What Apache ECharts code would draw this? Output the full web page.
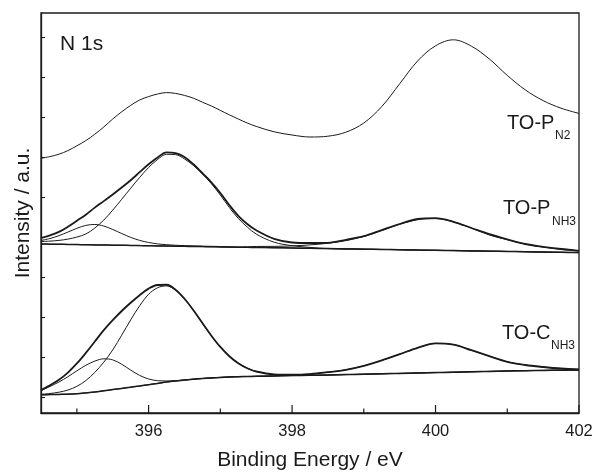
<!DOCTYPE html>
<html>
<head>
<meta charset="utf-8">
<script src="https://cdn.jsdelivr.net/npm/echarts@6/dist/echarts.min.js"></script>
<style>
  html, body { margin: 0; padding: 0; background: #ffffff; }
  #chart { width: 595px; height: 472px; }
</style>
</head>
<body>
<div id="chart"></div>
<script>
// Binding energy grid (eV): 0.125 eV steps up to 397.5, then 0.25 eV steps
const energy = [394.5, 394.625, 394.75, 394.875, 395, 395.125, 395.25, 395.375, 395.5, 395.625,
  395.75, 395.875, 396, 396.125, 396.25, 396.375, 396.5, 396.625, 396.75, 396.875,
  397, 397.125, 397.25, 397.375, 397.5, 397.75, 398, 398.25, 398.5, 398.75,
  399, 399.25, 399.5, 399.75, 400, 400.25, 400.5, 400.75, 401, 401.25,
  401.5, 401.75, 402];

// TO-P (N2) spectrum, offset intensity
const pN2 = [5.97, 6.01, 6.07, 6.16, 6.28, 6.41, 6.57, 6.75, 6.95, 7.13,
  7.29, 7.425, 7.51, 7.575, 7.61, 7.59, 7.54, 7.47, 7.37, 7.275,
  7.165, 7.055, 6.95, 6.85, 6.765, 6.63, 6.55, 6.50, 6.52, 6.62,
  6.85, 7.26, 7.83, 8.40, 8.78, 8.93, 8.77, 8.45, 8.04, 7.68,
  7.41, 7.22, 7.09];

// TO-P (NH3): fitted envelope, three components and background
const pNH3Envelope = [3.975, 4.042, 4.128, 4.256, 4.405, 4.558, 4.735, 4.897, 5.064, 5.237,
  5.42, 5.62, 5.818, 5.988, 6.115, 6.095, 6.0, 5.818, 5.595, 5.368,
  5.10, 4.80, 4.53, 4.325, 4.168, 3.953, 3.863, 3.85, 3.855, 3.93,
  4.02, 4.175, 4.325, 4.45, 4.47, 4.38, 4.225, 4.07, 3.94, 3.825,
  3.755, 3.70, 3.655];
const pNH3Peak1 = [3.913, 3.962, 4.034, 4.123, 4.217, 4.290, 4.313, 4.274, 4.188, 4.087,
  3.991, 3.916, 3.863, 3.828, 3.808, 3.794, 3.784, 3.778, 3.772, 3.767,
  3.762, 3.749, 3.746, 3.742, 3.739, 3.732, 3.725, 3.717, 3.710, 3.703,
  3.696, 3.689, 3.682, 3.674, 3.667, 3.660, 3.653, 3.646, 3.639, 3.632,
  3.624, 3.617, 3.610];
const pNH3Peak2 = [3.887, 3.897, 3.915, 3.947, 3.999, 4.075, 4.225, 4.423, 4.672, 4.943,
  5.218, 5.489, 5.737, 5.938, 6.067, 6.06, 5.952, 5.788, 5.577, 5.333,
  5.05, 4.74, 4.465, 4.25, 4.073, 3.870, 3.783, 3.740, 3.710, 3.703,
  3.696, 3.689, 3.682, 3.674, 3.667, 3.660, 3.653, 3.646, 3.639, 3.632,
  3.624, 3.617, 3.610];
const pNH3Peak3 = [3.825, 3.821, 3.818, 3.814, 3.811, 3.807, 3.803, 3.800, 3.796, 3.793,
  3.789, 3.785, 3.782, 3.778, 3.775, 3.771, 3.767, 3.764, 3.760, 3.757,
  3.753, 3.749, 3.746, 3.755, 3.764, 3.766, 3.777, 3.803, 3.844, 3.910,
  4.014, 4.158, 4.318, 4.433, 4.460, 4.379, 4.225, 4.051, 3.933, 3.823,
  3.747, 3.693, 3.655];
const pNH3Background = [3.825, 3.821, 3.818, 3.814, 3.811, 3.807, 3.803, 3.800, 3.796, 3.793,
  3.789, 3.785, 3.782, 3.778, 3.775, 3.771, 3.767, 3.764, 3.760, 3.757,
  3.753, 3.749, 3.746, 3.742, 3.739, 3.732, 3.725, 3.717, 3.710, 3.703,
  3.696, 3.689, 3.682, 3.674, 3.667, 3.660, 3.653, 3.646, 3.639, 3.632,
  3.624, 3.617, 3.610];

// TO-C (NH3): fitted envelope, three components and background
const cNH3Envelope = [0.173, 0.291, 0.43, 0.611, 0.838, 1.102, 1.386, 1.67, 1.92, 2.15,
  2.355, 2.545, 2.71, 2.80, 2.806, 2.682, 2.457, 2.169, 1.8475, 1.5325,
  1.251, 1.019, 0.8445, 0.7195, 0.6375, 0.567, 0.558, 0.5735, 0.62, 0.68,
  0.78, 0.915, 1.07, 1.23, 1.34, 1.31, 1.17, 1.02, 0.88, 0.80,
  0.75, 0.712, 0.69];
const cNH3Peak1 = [0.16, 0.263, 0.375, 0.507, 0.654, 0.793, 0.897, 0.955, 0.928, 0.819,
  0.673, 0.54, 0.451, 0.408, 0.401, 0.41, 0.425, 0.445, 0.4625, 0.4775,
  0.49, 0.50, 0.5075, 0.5125, 0.5175, 0.525, 0.535, 0.5425, 0.55, 0.56,
  0.57, 0.58, 0.59, 0.60, 0.61, 0.62, 0.63, 0.64, 0.65, 0.6575,
  0.665, 0.67, 0.675];
const cNH3Peak2 = [0.068, 0.088, 0.12, 0.174, 0.2665, 0.4115, 0.614, 0.87, 1.177, 1.546,
  1.927, 2.28, 2.5665, 2.732, 2.7775, 2.672, 2.457, 2.169, 1.8475, 1.5325,
  1.251, 1.019, 0.8445, 0.7195, 0.6375, 0.56, 0.543, 0.5425, 0.55, 0.56,
  0.57, 0.58, 0.59, 0.60, 0.61, 0.62, 0.63, 0.64, 0.65, 0.6575,
  0.665, 0.67, 0.675];
const cNH3Peak3 = [0.055, 0.06, 0.065, 0.07, 0.0825, 0.1025, 0.125, 0.155, 0.185, 0.215,
  0.245, 0.275, 0.3075, 0.34, 0.3725, 0.40, 0.425, 0.445, 0.4625, 0.4775,
  0.49, 0.50, 0.5075, 0.5125, 0.5175, 0.532, 0.55, 0.5735, 0.62, 0.68,
  0.78, 0.915, 1.07, 1.23, 1.34, 1.31, 1.17, 1.02, 0.88, 0.80,
  0.75, 0.712, 0.69];
const cNH3Background = [0.055, 0.06, 0.065, 0.07, 0.0825, 0.1025, 0.125, 0.155, 0.185, 0.215,
  0.245, 0.275, 0.3075, 0.34, 0.3725, 0.40, 0.425, 0.445, 0.4625, 0.4775,
  0.49, 0.50, 0.5075, 0.5125, 0.5175, 0.525, 0.535, 0.5425, 0.55, 0.56,
  0.57, 0.58, 0.59, 0.60, 0.61, 0.62, 0.63, 0.64, 0.65, 0.6575,
  0.665, 0.67, 0.675];

// Axis ticks: labelled (major) and unlabelled (minor) binding energies
const xTickLabels = [396, 398, 400, 402];
const xMinorTicks = [395, 397, 399, 401];
const yTicks = [0, 1, 2, 3, 4, 5, 6, 7, 8, 9];

const X_MIN = 394.5, X_MAX = 402, Y_MIN = -0.4, Y_MAX = 9.6;
const FONT = '"Liberation Sans", Arial, Helvetica, sans-serif';
const INK = '#1a1a1a';

function pairs(values) {
  return energy.map((e, i) => [e, values[i]]);
}

function curve(values, width) {
  return {
    type: 'line',
    data: pairs(values),
    smooth: 0.35,
    showSymbol: false,
    silent: true,
    animation: false,
    lineStyle: { color: INK, width: width }
  };
}

// Inward tick marks along the energy axis, placed through the axis scale
// and drawn on their own layer above the plot.
const tickRows = xTickLabels.map(v => [v, 8]).concat(xMinorTicks.map(v => [v, 4.5]));
const energyTicks = {
  type: 'custom',
  silent: true,
  animation: false,
  clip: false,
  zlevel: 1,
  z: 100,
  data: tickRows,
  renderItem: function (params, api) {
    const base = api.coord([api.value(0), Y_MIN]);
    const len = api.value(1);
    return {
      type: 'line',
      shape: { x1: base[0], y1: base[1], x2: base[0], y2: base[1] - len },
      style: { stroke: INK, lineWidth: 1.2 }
    };
  }
};

const chart = echarts.init(document.getElementById('chart'), null, { renderer: 'canvas' });

chart.setOption({
  animation: false,
  grid: {
    left: 41, right: 16, top: 13, bottom: 59,
    outerBoundsMode: 'none',
    show: true, borderColor: INK, borderWidth: 1.3
  },
  xAxis: {
    type: 'value', min: X_MIN, max: X_MAX,
    name: 'Binding Energy / eV', nameLocation: 'middle', nameGap: 37,
    nameTextStyle: { fontFamily: FONT, fontSize: 21, color: INK },
    axisLine: { show: true, onZero: false, lineStyle: { color: INK, width: 1.3 } },
    axisTick: { show: false },
    axisLabel: { show: true, customValues: xTickLabels, margin: 10,
      fontFamily: FONT, fontSize: 16.5, color: INK },
    splitLine: { show: false }
  },
  yAxis: {
    type: 'value', min: Y_MIN, max: Y_MAX,
    name: 'Intensity / a.u.', nameLocation: 'middle', nameGap: 7, nameRotate: 90,
    nameTextStyle: { fontFamily: FONT, fontSize: 21, color: INK },
    axisLine: { show: true, onZero: false, lineStyle: { color: INK, width: 1.3 } },
    axisTick: { show: true, inside: true, length: 4, customValues: yTicks,
      lineStyle: { color: INK, width: 1.1 } },
    axisLabel: { show: false },
    splitLine: { show: false }
  },
  series: [
    curve(pN2, 1.0),
    curve(pNH3Background, 1.5),
    curve(pNH3Peak1, 1.0),
    curve(pNH3Peak2, 1.0),
    curve(pNH3Peak3, 1.0),
    curve(pNH3Envelope, 1.8),
    curve(cNH3Background, 1.5),
    curve(cNH3Peak1, 1.0),
    curve(cNH3Peak2, 1.0),
    curve(cNH3Peak3, 1.0),
    curve(cNH3Envelope, 1.8),
    energyTicks
  ],
  graphic: [
    { type: 'text', x: 60, y: 44, style: { text: 'N 1s', fontFamily: FONT, fontSize: 21, fill: INK, align: 'left', verticalAlign: 'middle' } },
    { type: 'text', x: 507, y: 123, style: { text: 'TO-P', fontFamily: FONT, fontSize: 20, fill: INK, align: 'left', verticalAlign: 'middle' } },
    { type: 'text', x: 555, y: 136, style: { text: 'N2', fontFamily: FONT, fontSize: 12, fill: INK, align: 'left', verticalAlign: 'middle' } },
    { type: 'text', x: 503, y: 208, style: { text: 'TO-P', fontFamily: FONT, fontSize: 20, fill: INK, align: 'left', verticalAlign: 'middle' } },
    { type: 'text', x: 552, y: 221.5, style: { text: 'NH3', fontFamily: FONT, fontSize: 12, fill: INK, align: 'left', verticalAlign: 'middle' } },
    { type: 'text', x: 502, y: 333, style: { text: 'TO-C', fontFamily: FONT, fontSize: 20, fill: INK, align: 'left', verticalAlign: 'middle' } },
    { type: 'text', x: 551, y: 345.5, style: { text: 'NH3', fontFamily: FONT, fontSize: 12, fill: INK, align: 'left', verticalAlign: 'middle' } }
  ]
});
</script>
</body>
</html>
